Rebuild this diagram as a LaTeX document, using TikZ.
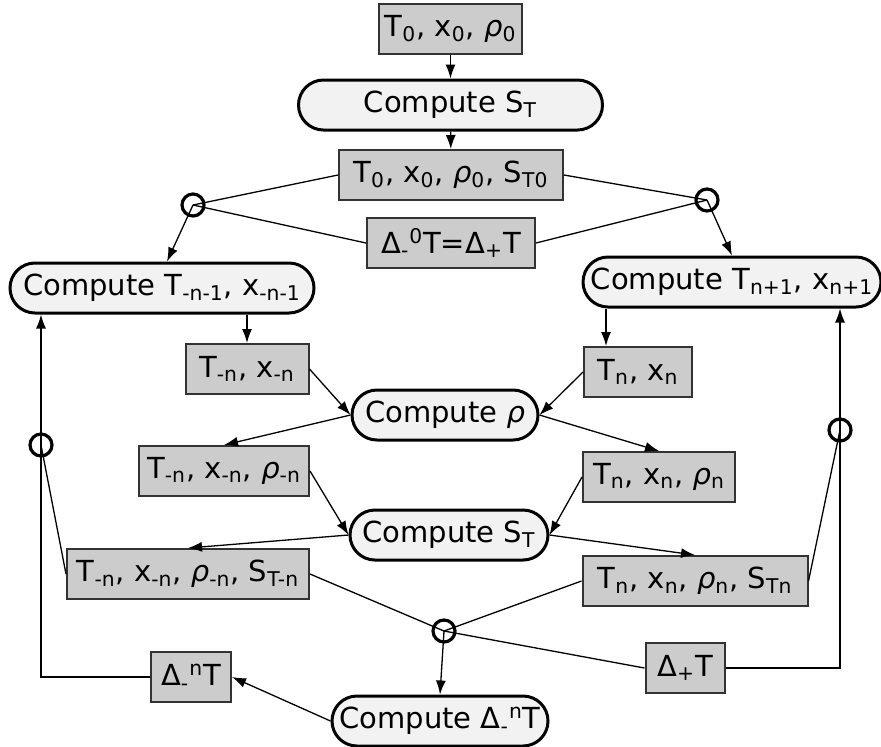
\documentclass[tikz,border=0pt]{standalone}
\usepackage{fontspec}
\setmainfont{DejaVu Sans}
\usetikzlibrary{positioning,arrows.meta,shapes.misc}
\definecolor{boxgray}{RGB}{204,204,204}
\definecolor{palegray}{RGB}{242,242,242}
\newcommand{\lo}[1]{\textsubscript{#1}}
\newcommand{\hi}[1]{\textsuperscript{#1}}
\newcommand{\rh}{\textit{ρ}}
\tikzset{
  data/.style={draw=black!80,fill=boxgray,line width=1pt,inner sep=0pt,minimum height=25pt,font=\fontsize{14.5}{17}\selectfont},
  proc/.style={rounded rectangle,draw,fill=palegray,line width=1.5pt,inner sep=0pt,minimum height=25pt,font=\fontsize{14.5}{17}\selectfont},
  junc/.style={circle,draw,line width=1.6pt,minimum size=11pt,inner sep=0pt},
  flow/.style={-{Latex[length=7pt,width=5pt]},line width=0.65pt},
  link/.style={line width=0.65pt}
}
\begin{document}
\begin{tikzpicture}[x=0.5pt,y=-0.5pt]
    \useasboundingbox (0,0) rectangle (881,746);
    \node[data,minimum width=71.5pt] (n0) at (450.5,29) {T\lo{0}, x\lo{0}, \rh\lo{0}};
    \node[proc,minimum width=152pt] (cS0) at (450.5,105) {Compute S\lo{T}};
    \node[data,minimum width=112pt] (n1) at (451,175) {T\lo{0}, x\lo{0}, \rh\lo{0}, S\lo{T0}};
    \node[data,minimum width=84pt] (d0) at (451,243) {Δ\lo{-}\hi{0}T=Δ\lo{+}T};
    \node[junc] (jL) at (193,205) {}; \node[junc] (jR) at (707,200) {};
    \node[proc,minimum width=152pt] (cL) at (162,288) {Compute T\lo{-n-1}, x\lo{-n-1}};
    \node[proc,minimum width=149pt] (cR) at (732,282) {Compute T\lo{n+1}, x\lo{n+1}};
    \node[data,minimum width=61.5pt] (a1) at (247,369) {T\lo{-n}, x\lo{-n}};
    \node[data,minimum width=54pt] (b1) at (638,372) {T\lo{n}, x\lo{n}};
    \node[proc,minimum width=93pt] (cRho) at (445,415) {Compute \rh};
    \node[data,minimum width=85pt] (a2) at (224,471) {T\lo{-n}, x\lo{-n}, \rh\lo{-n}};
    \node[data,minimum width=76pt] (b2) at (659,477) {T\lo{n}, x\lo{n}, \rh\lo{n}};
    \node[proc,minimum width=99pt] (cS) at (449,535) {Compute S\lo{T}};
    \node[data,minimum width=121pt] (a3) at (188,574) {T\lo{-n}, x\lo{-n}, \rh\lo{-n}, S\lo{T-n}};
    \node[data,minimum width=112.5pt] (b3) at (695,581) {T\lo{n}, x\lo{n}, \rh\lo{n}, S\lo{Tn}};
    \node[junc] (jB) at (444,631) {};
    \node[junc] (jLo) at (41,445) {}; \node[junc] (jRo) at (840,430) {};
    \node[data,minimum width=40pt] (dL) at (191,677) {Δ\lo{-}\hi{n}T};
    \node[data,minimum width=39.5pt] (dR) at (685,668) {Δ\lo{+}T};
    \node[proc,minimum width=108pt] (cD) at (440,721) {Compute Δ\lo{-}\hi{n}T};
    \coordinate (b1in) at ([xshift=-16pt]b1.north);
    % top part
    \draw[flow] (n0) -- (cS0); \draw[flow] (cS0) -- (n1);
    \draw[link] (n1.west) -- (jL.center); \draw[link] (d0.west) -- (jL.center);
    \draw[link] (n1.east) -- (jR.center); \draw[link] (d0.east) -- (jR.center);
    \draw[flow] (jL.center) -- ([xshift=2.5pt]cL.north); \draw[flow] (jR.center) -- (cR.north);
    % both branches
    \draw[flow] (cL.south -| a1.north) -- (a1.north); \draw[flow] (cR.south -| b1in) -- (b1in);
    \draw[flow] (a1.east) -- (cRho.west); \draw[flow] (b1.west) -- (cRho.east);
    \draw[flow] (cRho.west) -- (a2.north); \draw[flow] (cRho.east) -- (b2.north);
    \draw[flow] (a2.east) -- (cS.west); \draw[flow] (b2.west) -- (cS.east);
    \draw[flow] (cS.west) -- (a3.north); \draw[flow] (cS.east) -- (b3.north);
    % merge and loop back
    \draw[link] (a3.east) -- (jB.center); \draw[link] (b3.west) -- (jB.center); \draw[link] (dR.west) -- (jB.center);
    \draw[flow] (jB.center) -- (cD.north); \draw[flow] (cD.west) -- (dL.east);
    \draw[link] (dL.west) -| (jLo.center); \draw[link] (a3.west) -- (jLo.center);
    \draw[flow] (jLo.center) -- (cL.south -| jLo);
    \draw[link] (dR.east) -| (jRo.center); \draw[link] (b3.east) -- (jRo.center);
    \draw[flow] (jRo.center) -- (cR.south -| jRo);
\end{tikzpicture}
\end{document}
